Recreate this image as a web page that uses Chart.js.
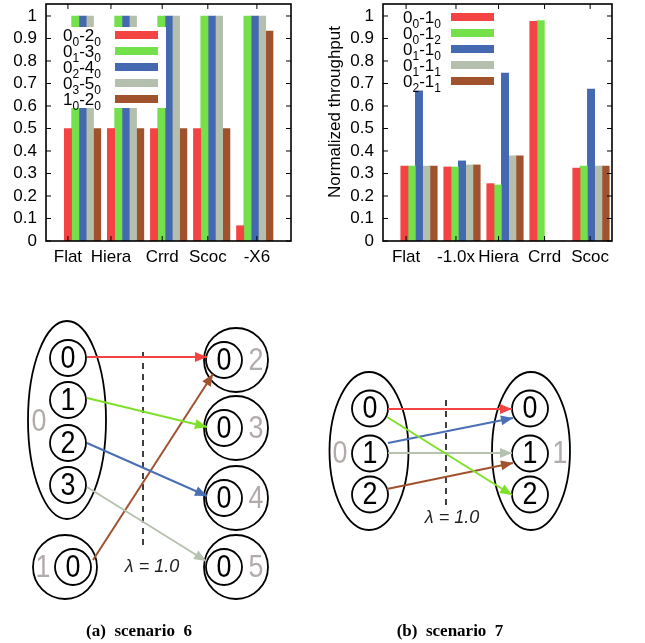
<!DOCTYPE html>
<html>
<head>
<meta charset="utf-8">
<script src="https://cdn.jsdelivr.net/npm/chart.js@4.4.1/dist/chart.umd.min.js"></script>
<style>
  body { margin: 0; background: #fff; width: 645px; height: 643px; position: relative; overflow: hidden; }
  canvas { position: absolute; }
</style>
</head>
<body>
<canvas id="c6" width="320" height="282" style="left:0;top:0"></canvas>
<canvas id="c7" width="325" height="282" style="left:320px;top:0"></canvas>
<canvas id="d6" width="320" height="353" style="left:0;top:290px"></canvas>
<canvas id="d7" width="325" height="353" style="left:320px;top:290px"></canvas>
<script>
// --- data: scenario 6 (left) ---
const cats6 = ['Flat', 'Hiera', 'Crrd', 'Scoc', '-X6'];
const tickAt6 = [-0.34, 0.66, 1.85, 2.91, 4.05];   // where gnuplot put the xtic labels
const names6 = ['0_0-2_0', '0_1-3_0', '0_2-4_0', '0_3-5_0', '1_0-2_0'];
const s6a = [0.5, 0.5, 0.5, 0.5, 0.068];
const s6b = [1, 1, 1, 1, 1];
const s6c = [1, 1, 1, 1, 1];
const s6d = [1, 1, 1, 1, 1];
const s6e = [0.5, 0.5, 0.5, 0.5, 0.933];

// --- data: scenario 7 (right) ---
const cats7 = ['Flat', '-1.0x', 'Hiera', 'Crrd', 'Scoc'];
const tickAt7 = [-0.3, 0.86, 1.85, 2.92, 3.98];
const names7 = ['0_0-1_0', '0_0-1_2', '0_1-1_0', '0_1-1_1', '0_2-1_1'];
const s7a = [0.333, 0.329, 0.255, 0.976, 0.324];
const s7b = [0.333, 0.329, 0.249, 0.98, 0.333];
const s7c = [0.667, 0.356, 0.746, 0, 0.675];
const s7d = [0.333, 0.338, 0.378, 0, 0.333];
const s7e = [0.333, 0.338, 0.378, 0, 0.333];

const yTickVals = [0, 0.1, 0.2, 0.3, 0.4, 0.5, 0.6, 0.7, 0.8, 0.9, 1];
const colors = ['#f44343', '#74e14b', '#4569b1', '#b4bfae', '#a0522d'];

Chart.defaults.font.family = '"Liberation Sans", Arial, sans-serif';
Chart.defaults.font.size = 17;
Chart.defaults.color = '#000';
Chart.defaults.animation = false;

function drawSubText(ctx, s, x, base) {
    for (let i = 0; i < s.length; i++) {
        let ch = s[i], sub = false;
        if (ch === '_') { sub = true; ch = s[++i]; }
        ctx.font = (sub ? '12px' : '17px') + ' "Liberation Sans", Arial, sans-serif';
        ctx.fillText(ch, x, sub ? base + 5 : base);
        x += ctx.measureText(ch).width;
    }
}

// legend drawn inside the plot, gnuplot style, with subscripts
const legendBox = {
    id: 'legendBox',
    afterDatasetsDraw(chart, args, o) {
        const ctx = chart.ctx;
        ctx.save();
        if (o.box) { ctx.fillStyle = '#fff'; ctx.fillRect(o.box[0], o.box[1], o.box[2], o.box[3]); }
        ctx.textAlign = 'left';
        ctx.textBaseline = 'alphabetic';
        chart.data.datasets.forEach((ds, k) => {
            const y = o.top + k * o.step;
            ctx.fillStyle = ds.backgroundColor;
            ctx.fillRect(o.swatchX, y - 4, o.swatchW, 8);
            ctx.fillStyle = '#000';
            drawSubText(ctx, ds.label, o.textX, y + 6);
        });
        ctx.restore();
    }
};

// closed frame with inward ticks
const frame = {
    id: 'frame',
    afterDatasetsDraw(chart, args, o) {
        const { ctx, chartArea: a, scales: { x, y } } = chart;
        ctx.save();
        ctx.strokeStyle = '#000';
        ctx.lineWidth = 1;
        ctx.beginPath();
        y.ticks.forEach(t => {
            const p = y.getPixelForValue(t.value);
            ctx.moveTo(a.left, p); ctx.lineTo(a.left + 5, p);
            ctx.moveTo(a.right, p); ctx.lineTo(a.right - 5, p);
        });
        x.ticks.forEach(t => {
            const p = x.getPixelForValue(t.value);
            ctx.moveTo(p, a.bottom); ctx.lineTo(p, a.bottom - 5);
            ctx.moveTo(p, a.top); ctx.lineTo(p, a.top + 5);
        });
        ctx.stroke();
        ctx.lineWidth = 1.6;
        ctx.strokeRect(a.left, a.top, a.right - a.left, a.bottom - a.top);
        if (o.title) {
            ctx.translate(o.title.x, o.title.y);
            ctx.rotate(-Math.PI / 2);
            ctx.fillStyle = '#000';
            ctx.font = '17px "Liberation Sans", Arial, sans-serif';
            ctx.textAlign = 'center';
            ctx.textBaseline = 'middle';
            ctx.fillText(o.title.text, 0, 0);
        }
        ctx.restore();
    }
};

function barChart(id, cats, tickAt, names, series, xmin, xmax, yWidth, padRight, legendOpts, title) {
    return new Chart(document.getElementById(id), {
        type: 'bar',
        data: {
            datasets: series.map((vals, k) => ({
                label: names[k],
                data: vals.map((v, i) => ({ x: i, y: v })),
                backgroundColor: colors[k],
                borderWidth: 0,
                barThickness: 7.3
            }))
        },
        options: {
            responsive: false,
            events: [],
            layout: { autoPadding: false, padding: { top: 4, right: padRight, left: 0, bottom: 0 } },
            plugins: {
                legend: { display: false },
                tooltip: { enabled: false },
                legendBox: legendOpts,
                frame: { title: title }
            },
            scales: {
                x: {
                    type: 'linear', min: xmin, max: xmax, offset: false,
                    afterBuildTicks: s => { s.ticks = tickAt.map(v => ({ value: v })); },
                    afterFit: s => { s.height = 41; s.paddingLeft = 0; s.paddingRight = 0; },
                    ticks: { autoSkip: false, maxRotation: 0, padding: 6, callback: (v, i) => cats[i] },
                    grid: { display: false, drawTicks: false },
                    border: { display: false }
                },
                y: {
                    min: 0, max: 1.0533,
                    afterBuildTicks: s => { s.ticks = yTickVals.map(v => ({ value: v })); },
                    afterFit: s => { s.width = yWidth; s.paddingTop = 0; s.paddingBottom = 0; },
                    ticks: { autoSkip: false, padding: 9, callback: v => (v === 0 || v === 1) ? String(v) : v.toFixed(1) },
                    grid: { display: false, drawTicks: false },
                    border: { display: false }
                }
            }
        },
        plugins: [legendBox, frame]
    });
}

barChart('c6', cats6, tickAt6, names6, [s6a, s6b, s6c, s6d, s6e], -0.849, 4.842, 46, 29,
    { box: [62, 27, 104, 81], top: 35, step: 16, textX: 63, swatchX: 115, swatchW: 43 }, null);
barChart('c7', cats7, tickAt7, names7, [s7a, s7b, s7c, s7d, s7e], -0.837, 4.488, 63, 33,
    { box: null, top: 17, step: 16, textX: 83, swatchX: 131, swatchW: 43 },
    { text: 'Normalized throughput', x: 15, y: 112 });

// --- diagrams (units = canvas pixels of each panel) ---
const flowColor = { r: '#f44343', g: '#7fe02a', b: '#4a6fb5', s: '#b6c1b0', n: '#a0522d' };

const groups6 = [{ x: 67, y: 130, rx: 39, ry: 99, t: '0', tx: 39, ty: 131 }];
const rings6 = [
    { x: 65, y: 277, t: '1', tx: 43 },
    { x: 236, y: 70, t: '2', tx: 256 },
    { x: 236, y: 138, t: '3', tx: 256 },
    { x: 236, y: 208, t: '4', tx: 256 },
    { x: 236, y: 277, t: '5', tx: 256 }
];
const nodes6 = [
    { x: 68, y: 68, t: '0' }, { x: 68, y: 110, t: '1' }, { x: 68, y: 153, t: '2' }, { x: 68, y: 195, t: '3' },
    { x: 73, y: 277, t: '0' },
    { x: 224, y: 70, t: '0' }, { x: 224, y: 138, t: '0' }, { x: 224, y: 208, t: '0' }, { x: 224, y: 277, t: '0' }
];
const flows6 = [
    { from: [87, 67], to: [207, 67], c: 'r' },
    { from: [87, 108], to: [207, 137], c: 'g' },
    { from: [87, 153], to: [207, 206], c: 'b' },
    { from: [87, 197], to: [206, 271], c: 's' },
    { from: [93, 270], to: [213, 84], c: 'n' }
];

const groups7 = [
    { x: 49, y: 161, rx: 39.5, ry: 79, t: '0', tx: 20, ty: 163 },
    { x: 211, y: 161, rx: 39, ry: 79, t: '1', tx: 240, ty: 163 }
];
const rings7 = [];
const nodes7 = [
    { x: 50, y: 118.5, t: '0' }, { x: 50, y: 163.5, t: '1' }, { x: 50, y: 204.5, t: '2' },
    { x: 210, y: 118.5, t: '0' }, { x: 210, y: 163.5, t: '1' }, { x: 210, y: 204.5, t: '2' }
];
const flows7 = [
    { from: [68, 119], to: [192, 119], c: 'r' },
    { from: [67, 127], to: [192, 205], c: 'g' },
    { from: [68, 153], to: [193, 128], c: 'b' },
    { from: [68, 163], to: [192, 163], c: 's' },
    { from: [67, 199], to: [193, 173], c: 'n' }
];

// tall, slightly narrow digits like the figure's
function digit(ctx, t, px, py) {
    ctx.save();
    ctx.translate(px, py + 1);
    ctx.scale(0.84, 1);
    ctx.fillText(t, 0, 0);
    ctx.restore();
}

const diagram = {
    id: 'diagram',
    beforeDatasetsDraw(chart, args, o) {
        const { ctx, scales: { x, y } } = chart;
        ctx.save();
        ctx.strokeStyle = '#000';
        ctx.lineWidth = 1.8;
        o.groups.forEach(g => {
            ctx.beginPath();
            ctx.ellipse(x.getPixelForValue(g.x), y.getPixelForValue(g.y), g.rx, g.ry, 0, 0, Math.PI * 2);
            ctx.stroke();
        });
        ctx.restore();
    },
    afterDatasetsDraw(chart, args, o) {
        const { ctx, scales: { x, y } } = chart;
        ctx.save();
        // arrow heads
        o.flows.forEach(f => {
            const x0 = x.getPixelForValue(f.from[0]), y0 = y.getPixelForValue(f.from[1]);
            const x1 = x.getPixelForValue(f.to[0]), y1 = y.getPixelForValue(f.to[1]);
            const ang = Math.atan2(y1 - y0, x1 - x0);
            ctx.save();
            ctx.translate(x1, y1);
            ctx.rotate(ang);
            ctx.fillStyle = flowColor[f.c];
            ctx.beginPath();
            ctx.moveTo(0, 0); ctx.lineTo(-12, -5); ctx.lineTo(-12, 5); ctx.closePath();
            ctx.fill();
            ctx.restore();
        });
        ctx.textAlign = 'center';
        ctx.textBaseline = 'middle';
        ctx.font = '32px "Liberation Sans", Arial, sans-serif';
        ctx.fillStyle = '#000';
        o.nodes.forEach(n => digit(ctx, n.t, x.getPixelForValue(n.x), y.getPixelForValue(n.y)));
        ctx.fillStyle = '#b3aaaa';
        o.groups.forEach(g => digit(ctx, g.t, x.getPixelForValue(g.tx), y.getPixelForValue(g.ty)));
        o.rings.forEach(r => digit(ctx, r.t, x.getPixelForValue(r.tx), y.getPixelForValue(r.y)));
        ctx.fillStyle = '#222';
        ctx.font = 'italic 18px "Liberation Sans", Arial, sans-serif';
        ctx.fillText('\u03bb = 1.0', x.getPixelForValue(o.lambda[0]), y.getPixelForValue(o.lambda[1]));
        ctx.fillStyle = '#000';
        ctx.font = 'bold 17px "Liberation Serif", "Times New Roman", serif';
        ctx.fillText(o.caption, x.getPixelForValue(o.capAt[0]), y.getPixelForValue(o.capAt[1]));
        ctx.restore();
    }
};

function diagramChart(id, w, h, groups, rings, nodes, flows, dash, lambda, caption, capAt) {
    const sets = flows.map(f => ({
        type: 'line', showLine: true,
        data: [{ x: f.from[0], y: f.from[1] }, { x: f.to[0], y: f.to[1] }],
        borderColor: flowColor[f.c], borderWidth: 2, pointRadius: 0, fill: false
    }));
    sets.push({
        type: 'line', showLine: true,
        data: [{ x: dash[0], y: dash[1] }, { x: dash[0], y: dash[2] }],
        borderColor: '#000', borderWidth: 1.5, borderDash: [6, 5], pointRadius: 0, fill: false
    });
    sets.push({
        data: nodes.map(n => ({ x: n.x, y: n.y })),
        pointRadius: 18, pointBorderWidth: 1.8, pointBorderColor: '#000', pointBackgroundColor: 'rgba(0,0,0,0)'
    });
    sets.push({
        data: rings.map(r => ({ x: r.x, y: r.y })),
        pointRadius: 32, pointBorderWidth: 1.8, pointBorderColor: '#000', pointBackgroundColor: 'rgba(0,0,0,0)'
    });
    return new Chart(document.getElementById(id), {
        type: 'scatter',
        data: { datasets: sets },
        options: {
            responsive: false,
            events: [],
            layout: { autoPadding: false, padding: 0 },
            plugins: {
                legend: { display: false }, tooltip: { enabled: false },
                diagram: { groups, rings, nodes, flows, lambda, caption, capAt }
            },
            scales: {
                x: { type: 'linear', min: 0, max: w, display: false },
                y: { type: 'linear', min: 0, max: h, reverse: true, display: false }
            }
        },
        plugins: [diagram]
    });
}

diagramChart('d6', 320, 353, groups6, rings6, nodes6, flows6, [143, 62, 260], [152, 277], '(a)  scenario  6', [139, 342]);
diagramChart('d7', 325, 353, groups7, rings7, nodes7, flows7, [126, 110, 218], [132, 228], '(b)  scenario  7', [130, 342]);
</script>
</body>
</html>
